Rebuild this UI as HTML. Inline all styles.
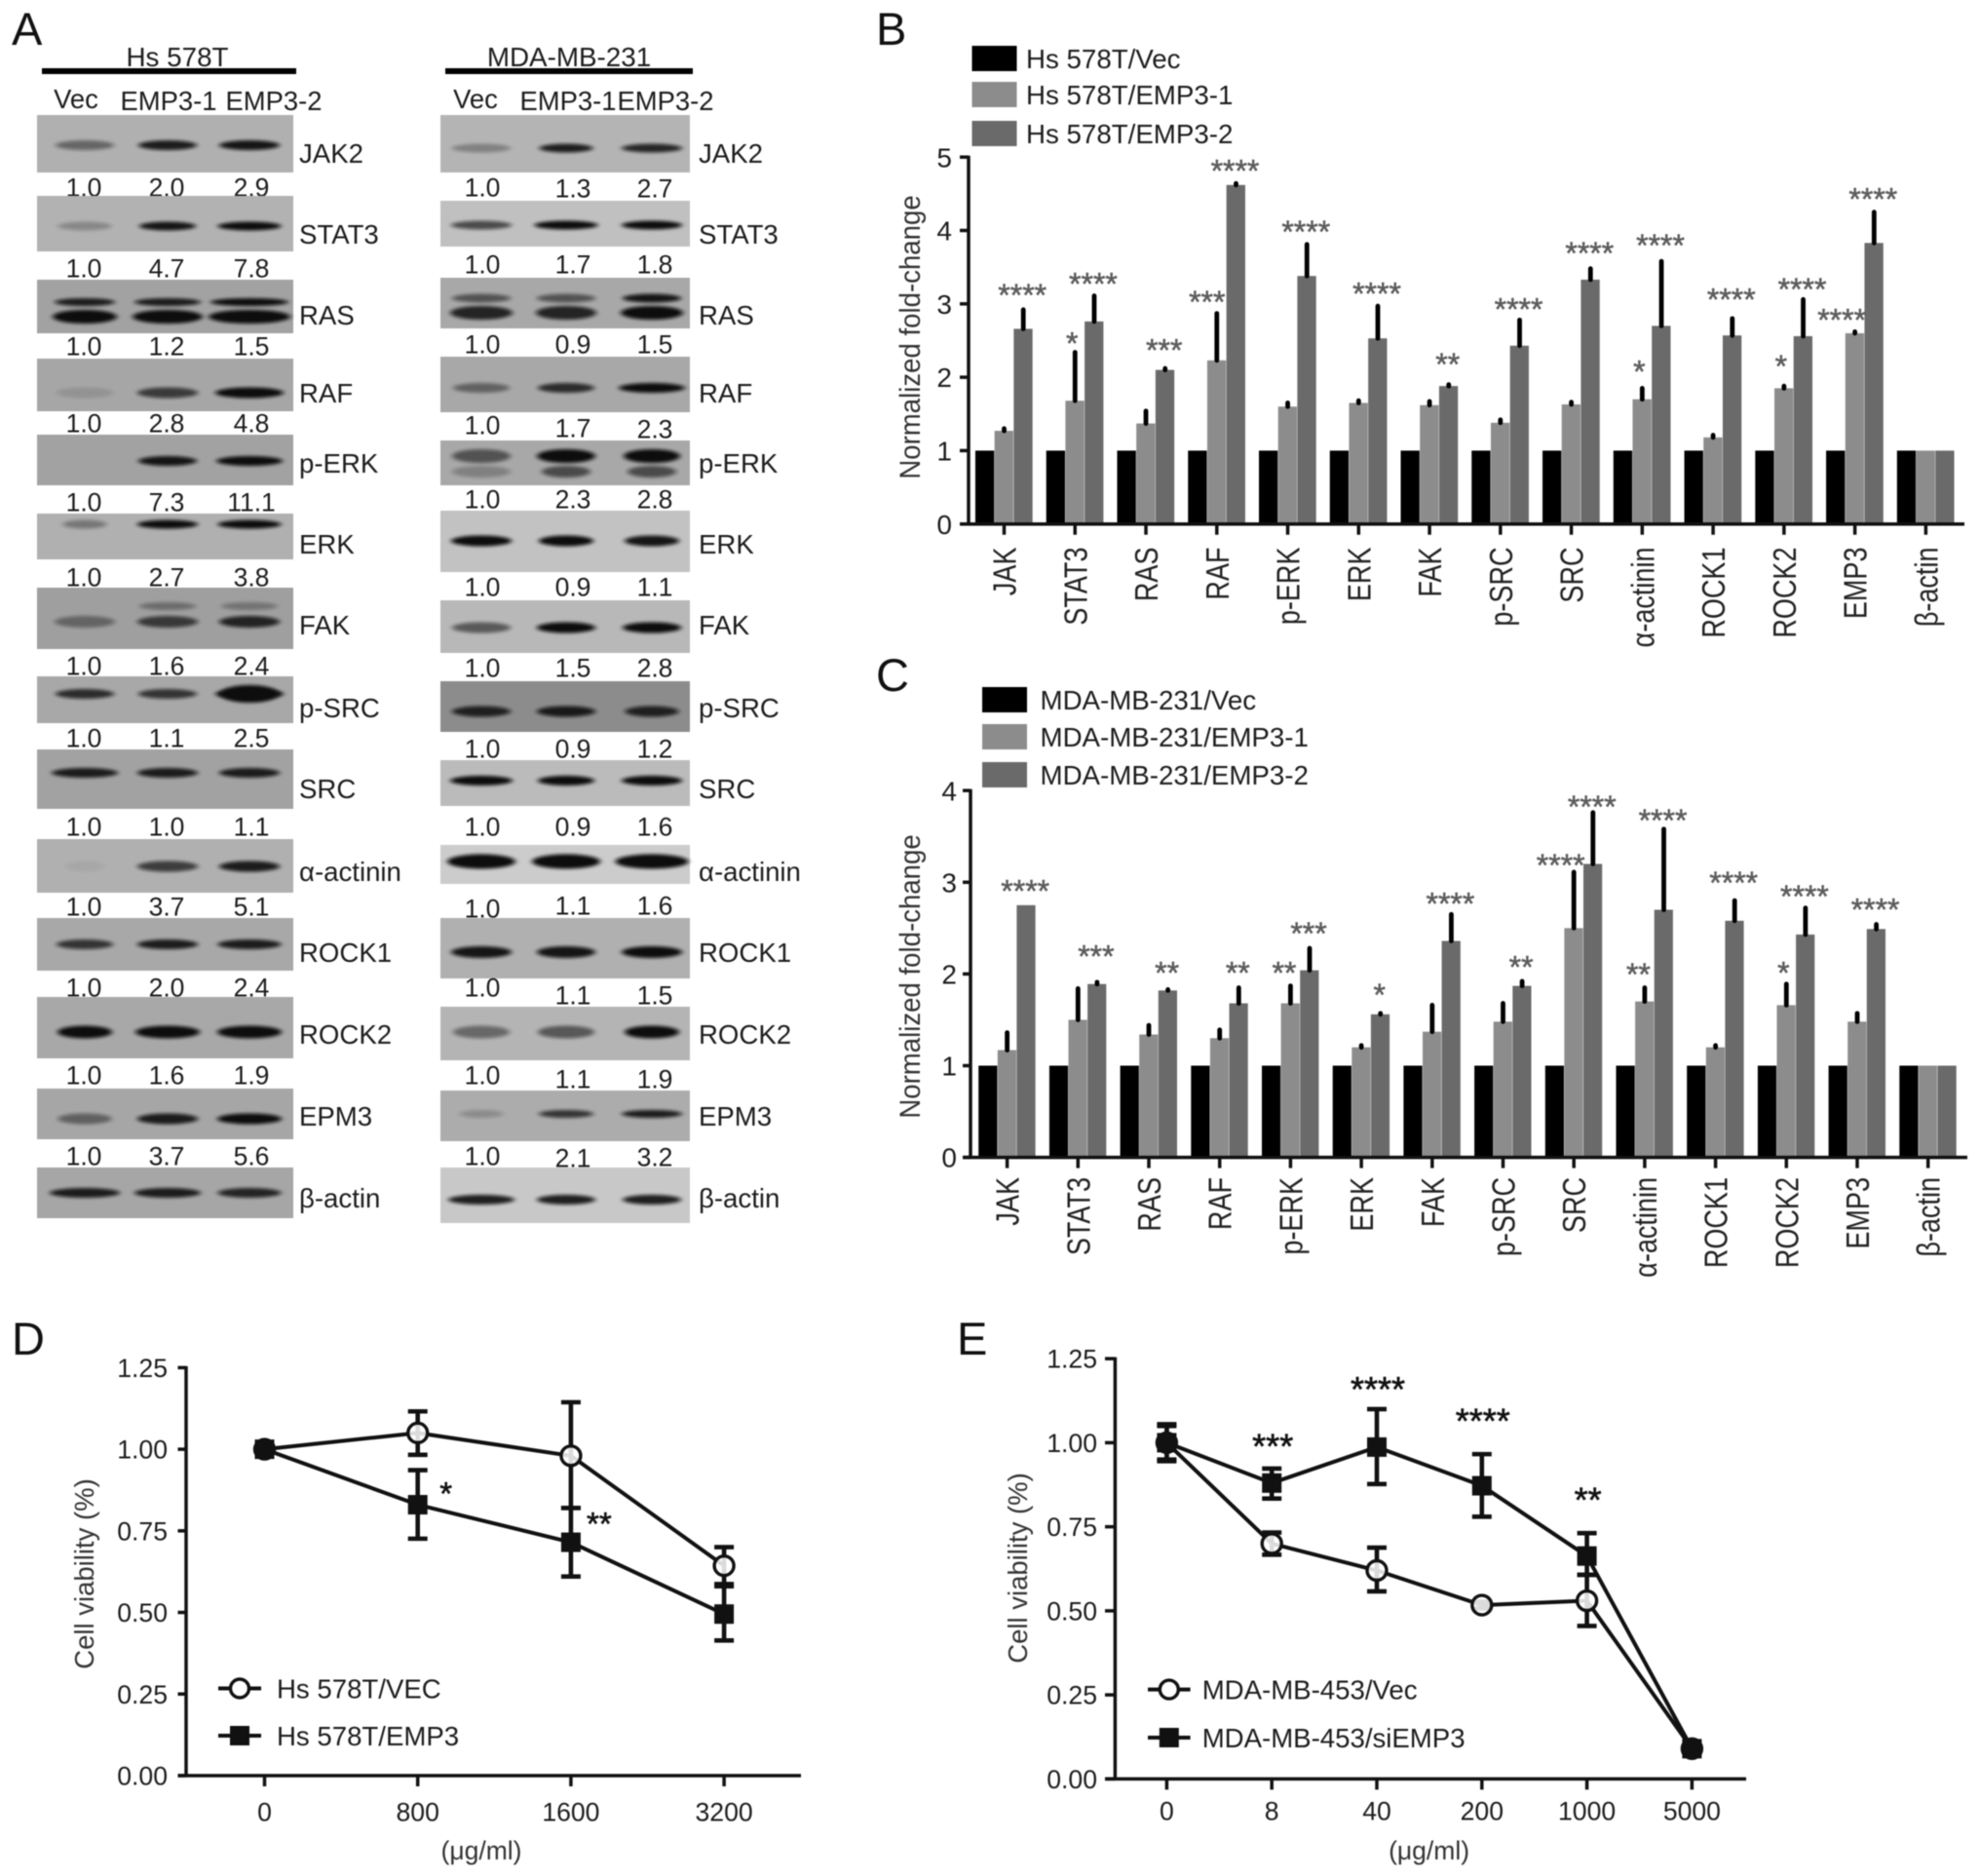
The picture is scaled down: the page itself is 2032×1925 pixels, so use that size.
<!DOCTYPE html>
<html lang="en">
<head>
<meta charset="utf-8">
<title>EMP3 western blots, fold-change and viability figure</title>
<style>
  html, body { margin: 0; padding: 0; background: #fff; }
  body { width: 2032px; height: 1925px; overflow: hidden; }
  svg { display: block; font-family: "Liberation Sans", sans-serif; filter: blur(0.5px); }
</style>
</head>
<body>
<svg id="figure" xmlns="http://www.w3.org/2000/svg" width="2032" height="1925" viewBox="0 0 2032 1925">
  <defs>
    <filter id="band-blur" x="-30%" y="-100%" width="160%" height="300%"><feGaussianBlur stdDeviation="2.6 1.7"/></filter>
  </defs>
  <rect width="2032" height="1925" fill="#ffffff"/>
</svg>
<script>
/* ---------- Panel B data ---------- */
const bCategories = ['JAK','STAT3','RAS','RAF','p-ERK','ERK','FAK','p-SRC','SRC','α-actinin','ROCK1','ROCK2','EMP3','β-actin'];
const bVec      = [1,1,1,1,1,1,1,1,1,1,1,1,1,1];
const bEmp1     = [1.27,1.68,1.37,2.23,1.60,1.65,1.62,1.38,1.63,1.70,1.18,1.85,2.60,1];
const bEmp1Top  = [1.30,2.34,1.54,2.87,1.65,1.68,1.67,1.42,1.66,1.85,1.21,1.88,2.62,1];
const bEmp2     = [2.66,2.76,2.10,4.62,3.38,2.53,1.88,2.43,3.33,2.70,2.57,2.56,3.83,1];
const bEmp2Top  = [2.92,3.11,2.12,4.64,3.81,2.97,1.90,2.78,3.48,3.58,2.80,3.06,4.25,1];
const bStars1   = ['','*','','***','','','','','','*','','*','****',''];
const bStars1At = [0,2.53,0,3.10,0,0,0,0,0,2.15,0,2.22,2.85,0];
const bStars2   = ['****','****','***','****','****','****','**','****','****','****','****','****','****',''];
const bStars2At = [3.19,3.34,2.44,4.88,4.05,3.21,2.25,3.00,3.76,3.87,3.13,3.27,4.50,0];
const bTicks    = [0,1,2,3,4,5];
const bLegend   = ['Hs 578T/Vec','Hs 578T/EMP3-1','Hs 578T/EMP3-2'];

/* ---------- Panel C data ---------- */
const cCategories = ['JAK','STAT3','RAS','RAF','p-ERK','ERK','FAK','p-SRC','SRC','α-actinin','ROCK1','ROCK2','EMP3','β-actin'];
const cVec      = [1,1,1,1,1,1,1,1,1,1,1,1,1,1];
const cEmp1     = [1.17,1.50,1.34,1.30,1.68,1.20,1.37,1.48,2.50,1.70,1.20,1.66,1.48,1];
const cEmp1Top  = [1.36,1.84,1.44,1.39,1.87,1.22,1.66,1.68,3.11,1.85,1.22,1.89,1.57,1];
const cEmp2     = [2.75,1.89,1.82,1.68,2.04,1.56,2.36,1.87,3.20,2.70,2.58,2.43,2.49,1];
const cEmp2Top  = [2.75,1.91,1.83,1.85,2.28,1.57,2.65,1.92,3.76,3.58,2.80,2.72,2.54,1];
const cStars1   = ['','','','','**','','','','****','**','','*','',''];
const cStars1At = [0,0,0,0,2.07,0,0,0,3.24,2.05,0,2.07,0,0];
const cStars2   = ['****','***','**','**','***','*','****','**','****','****','****','****','****',''];
const cStars2At = [2.96,2.25,2.07,2.07,2.50,1.83,2.82,2.13,3.88,3.73,3.05,2.90,2.76,0];
const cTicks    = [0,1,2,3,4];
const cLegend   = ['MDA-MB-231/Vec','MDA-MB-231/EMP3-1','MDA-MB-231/EMP3-2'];

/* ---------- Panel D data ---------- */
const dDoses     = ['0','800','1600','3200'];
const dVec       = [1.00,1.05,0.98,0.643];
const dVecErrHi  = [1.02,1.116,1.144,0.70];
const dVecErrLo  = [0.98,0.983,0.82,0.587];
const dEmp       = [1.00,0.83,0.715,0.495];
const dEmpErrHi  = [1.02,0.936,0.82,0.58];
const dEmpErrLo  = [0.98,0.726,0.61,0.414];
const dStars     = ['','*','**',''];
const dStarsAt   = [0,0.887,0.794,0];
const dTicks     = ['0.00','0.25','0.50','0.75','1.00','1.25'];
const dLegend    = ['Hs 578T/VEC','Hs 578T/EMP3'];

/* ---------- Panel E data ---------- */
const eDoses     = ['0','8','40','200','1000','5000'];
const eVec       = [1.00,0.70,0.62,0.517,0.53,0.09];
const eVecErrHi  = [1.055,0.733,0.688,0.527,0.607,0.10];
const eVecErrLo  = [0.945,0.667,0.558,0.507,0.455,0.08];
const eSi        = [1.00,0.88,0.987,0.872,0.663,0.09];
const eSiErrHi   = [1.05,0.923,1.10,0.966,0.731,0.10];
const eSiErrLo   = [0.95,0.834,0.877,0.78,0.607,0.08];
const eStars     = ['','***','****','****','**',''];
const eStarsAt   = [0,1.014,1.184,1.089,0.854,0];
const eTicks     = ['0.00','0.25','0.50','0.75','1.00','1.25'];
const eLegend    = ['MDA-MB-453/Vec','MDA-MB-453/siEMP3'];

/* ---------- Panel A printed values ---------- */
const aLanes = ['Vec','EMP3-1','EMP3-2'];
const aHsValues = [['1.0','2.0','2.9'],['1.0','4.7','7.8'],['1.0','1.2','1.5'],['1.0','2.8','4.8'],['1.0','7.3','11.1'],['1.0','2.7','3.8'],['1.0','1.6','2.4'],['1.0','1.1','2.5'],['1.0','1.0','1.1'],['1.0','3.7','5.1'],['1.0','2.0','2.4'],['1.0','1.6','1.9'],['1.0','3.7','5.6']];
const aMdaValues = [['1.0','1.3','2.7'],['1.0','1.7','1.8'],['1.0','0.9','1.5'],['1.0','1.7','2.3'],['1.0','2.3','2.8'],['1.0','0.9','1.1'],['1.0','1.5','2.8'],['1.0','0.9','1.2'],['1.0','0.9','1.6'],['1.0','1.1','1.6'],['1.0','1.1','1.5'],['1.0','1.1','1.9'],['1.0','2.1','3.2']];

const NS = 'http://www.w3.org/2000/svg';
const root = document.getElementById('figure');

function add(parent, tag, attrs, txt) {
  const n = document.createElementNS(NS, tag);
  for (const k in attrs) n.setAttribute(k, attrs[k]);
  if (txt !== undefined) n.textContent = txt;
  parent.appendChild(n);
  return n;
}
function slug(s) {
  return String(s).toLowerCase().replace(/α/g,'alpha').replace(/β/g,'beta').replace(/[^a-z0-9]+/g,'-').replace(/^-|-$/g,'');
}
function centred(parent, x, cy, size, anchor, txt, fill) {
  return add(parent, 'text', {x: x, y: cy + size * 0.36, 'font-size': size, 'text-anchor': anchor, fill: fill || '#1c1c1c'}, txt);
}

/* ---------- Panel letters ---------- */
[['A',12,46],['B',899,46],['C',899,709],['D',12,1390],['E',982,1390]].forEach(function (p) {
  const t = add(root, 'text', {x: p[1], y: p[2], 'font-size': 47, fill: '#111'}, p[0]);
  
  
});

/* ---------- Panel A: western blots ---------- */
const rowNames = ['JAK2','STAT3','RAS','RAF','p-ERK','ERK','FAK','p-SRC','SRC','α-actinin','ROCK1','ROCK2','EPM3','β-actin'];
const labelCentres = [157,240,323,403,475,558,641,726,809,894,977,1061,1145,1229];

const hsLayout = {
  x0: 38, x1: 301, labelX: 307, lanes: [87,172,256], valueX: [86,171,258],
  valueY: [[192,192,192],[275,275,275],[355,355,355],[434,434,434],[515,515,515],[592,592,592],[683,683,683],[757,757,757],[848,848,848],[930,930,930],[1013,1013,1013],[1103,1103,1103],[1186,1186,1186]],
  rows: [
    [118,177,'#b0b0b0',[[149,8,[.45,.9,.95],[60,60,62]]]],
    [201,258,'#b2b2b2',[[232,7,[.25,.95,1],[55,58,65]]]],
    [287,342,'#a2a2a2',[[310,6,[.9,.9,1],[62,68,80]],[325,12,[1,1,1],[66,72,84]]]],
    [368,422,'#a6a6a6',[[403,9,[.12,.7,1],[58,62,70]]]],
    [446,498,'#a2a2a2',[[473,8,[0,.95,1],[40,60,68]]]],
    [527,574,'#b0b0b0',[[538,7,[.35,1,1],[45,62,65]]]],
    [603,666,'#9f9f9f',[[622,6,[0,.35,.3],[60,58,58]],[638,10,[.4,.7,.85],[62,62,62]]]],
    [694,742,'#a8a8a8',[[712,8,[.8,.75,1],[60,60,70]],[712,16,[0,0,1],[10,10,60]]]],
    [769,830,'#a2a2a2',[[793,8,[.9,.9,.9],[68,62,62]]]],
    [861,916,'#b0b0b0',[[889,9,[.05,.7,.9],[40,62,62]]]],
    [942,996,'#a8a8a8',[[969,8,[.75,.9,.9],[58,62,65]]]],
    [1023,1086,'#a8a8a8',[[1059,11,[1,1,1],[56,66,66]]]],
    [1117,1169,'#a6a6a6',[[1148,9,[.45,.9,1],[55,62,66]]]],
    [1198,1250,'#a6a6a6',[[1224,8,[.9,.9,.85],[72,68,65]]]]
  ]
};
const mdaLayout = {
  x0: 452, x1: 708, labelX: 717, lanes: [494,581,669], valueX: [495,588,672],
  valueY: [[192,193,193],[271,271,271],[353,353,353],[436,439,440],[512,512,512],[602,602,602],[685,685,685],[768,768,768],[848,848,848],[932,929,929],[1013,1021,1021],[1103,1107,1107],[1186,1188,1187]],
  rows: [
    [118,177,'#b4b4b4',[[152,7,[.3,.9,.85],[60,55,62]]]],
    [206,253,'#c0c0c0',[[231,7,[.65,1,1],[62,65,62]]]],
    [285,337,'#a8a8a8',[[306,7,[.55,.55,.95],[60,60,60]],[321,12,[.85,.85,1],[64,62,64]]]],
    [366,423,'#a8a8a8',[[398,8,[.45,.8,1],[58,58,68]]]],
    [452,498,'#a8a8a8',[[468,12,[.55,1,1],[60,60,58]],[484,10,[.25,.6,.6],[60,50,50]]]],
    [524,587,'#c2c2c2',[[555,9,[1,1,.95],[62,56,56]]]],
    [616,670,'#b8b8b8',[[644,9,[.55,1,1],[60,60,60]]]],
    [699,751,'#8c8c8c',[[730,9,[.85,.9,.85],[60,60,55]]]],
    [780,827,'#bbbbbb',[[801,8,[1,1,1],[64,58,62]]]],
    [867,907,'#cccccc',[[884,13,[1,1,1],[70,70,75]]]],
    [942,1004,'#b0b0b0',[[977,10,[.95,.95,1],[62,60,62]]]],
    [1033,1088,'#b4b4b4',[[1059,11,[.45,.55,1],[58,58,56]]]],
    [1119,1171,'#acacac',[[1143,6,[.2,.75,.9],[45,56,62]]]],
    [1198,1255,'#c8c8c8',[[1231,8,[.9,.9,.9],[68,60,60]]]]
  ]
};

function drawBlotColumn(key, lay, values) {
  const g = add(root, 'g', {});
  
  
  lay.rows.forEach(function (r, i) {
    const rowKey = key + '-' + slug(rowNames[i]);
    const blot = add(g, 'rect', {x: lay.x0, y: r[0], width: lay.x1 - lay.x0, height: r[1] - r[0], fill: r[2]});
    
    
    r[3].forEach(function (b) {
      b[2].forEach(function (op, l) {
        if (op <= 0) return;
        const band = add(g, 'ellipse', {cx: lay.lanes[l], cy: b[0], rx: b[3][l] / 2, ry: b[1] / 2 + 1, fill: '#0a0a0a', opacity: op, filter: 'url(#band-blur)'});
        
        
      });
    });
    const lab = centred(g, lay.labelX, labelCentres[i], 27.6, 'start', rowNames[i]);
    
    
    if (values[i]) {
      values[i].forEach(function (v, l) {
        const t = centred(g, lay.valueX[l], lay.valueY[i][l], 26.5, 'middle', v);
        
        
      });
    }
  });
}
drawBlotColumn('hs578t', hsLayout, aHsValues);
drawBlotColumn('mda231', mdaLayout, aMdaValues);

[[ 'Hs 578T', 184, 43, 304, [[78,101],[173,103],[281,103]] ],[ 'MDA-MB-231', 586, 457, 711, [[488,101],[583,103],[683,103]] ]].forEach(function (h) {
  const t = centred(root, h[1] - 2, 58, 27.8, 'middle', h[0]);
  
  
  const bar = add(root, 'rect', {x: h[2], y: 70, width: h[3] - h[2], height: 6, fill: '#000'});
  
  
  h[4].forEach(function (p, i) {
    const l = centred(root, p[0], p[1], 27.4, 'middle', aLanes[i]);
    
    
  });
});

/* ---------- Bar charts ---------- */
const barFills = ['#000000','#8c8c8c','#6a6a6a'];

function drawBarChart(o) {
  const g = add(root, 'g', {});
  
  
  const xPos = function (i) { return o.firstX + i * o.stepX; };
  const yPos = function (v) { return o.y0 - v * o.unit; };

  o.series.forEach(function (vals, s) {
    vals.forEach(function (v, i) {
      const bar = add(g, 'rect', {x: xPos(i) + (s - 1.5) * o.barW, y: yPos(v), width: o.barW - 0.4, height: o.y0 - yPos(v), fill: barFills[s]});
      
      
    });
  });
  [[1, o.tops1],[2, o.tops2]].forEach(function (e) {
    e[1].forEach(function (top, i) {
      const base = o.series[e[0]][i];
      if (top <= base) return;
      const cx = xPos(i) + (e[0] - 1) * o.barW;
      const line = add(g, 'line', {x1: cx, x2: cx, y1: yPos(base), y2: yPos(top), stroke: '#000', 'stroke-width': 4.8, 'stroke-linecap': 'round'});
      
      
    });
  });
  [[1, o.stars1, o.stars1At],[2, o.stars2, o.stars2At]].forEach(function (e) {
    e[1].forEach(function (label, i) {
      if (!label) return;
      const shift = e[0] === 1 ? -3 - (label.length - 1) * 3.5 : -1;
      const cx = xPos(i) + (e[0] - 1) * o.barW + shift;
      const t = add(g, 'text', {x: cx, y: yPos(e[2][i]) + 16.5, 'font-size': 32, 'text-anchor': 'middle', fill: '#5c5c5c', stroke: '#5c5c5c', 'stroke-width': 0.5}, label);
      
      
    });
  });

  const yAxis = add(g, 'line', {x1: o.axisX, x2: o.axisX, y1: yPos(o.ticks[o.ticks.length - 1]) - 1.5, y2: o.y0 + 1.5, stroke: '#111', 'stroke-width': 3.5});
  
  
  const xAxis = add(g, 'line', {x1: o.axisX0, x2: o.axisX1, y1: o.y0, y2: o.y0, stroke: '#111', 'stroke-width': 3.5});
  
  

  o.ticks.forEach(function (v) {
    const tick = add(g, 'line', {x1: o.axisX0, x2: o.axisX, y1: yPos(v), y2: yPos(v), stroke: '#111', 'stroke-width': 3.5});
    
    
    const t = centred(g, o.tickRight, yPos(v), 28, 'end', String(v));
    
    
  });
  o.categories.forEach(function (c, i) {
    const tick = add(g, 'line', {x1: xPos(i), x2: xPos(i), y1: o.y0, y2: o.y0 + 11, stroke: '#111', 'stroke-width': 3.5});
    
    
    const t = add(g, 'text', {transform: 'translate(' + (xPos(i) + 12) + ',' + o.labelTop + ') rotate(-90) scale(.82,1)', 'font-size': 33, 'text-anchor': 'end', fill: '#222'}, c);
    
    
  });

  const yt = add(g, 'text', {transform: 'translate(' + (o.yTitleX + 10) + ',' + o.yTitleY + ') rotate(-90) scale(.92,1)', 'font-size': 30, 'text-anchor': 'middle', fill: '#333'}, 'Normalized fold-change');
  
  

  o.legend.forEach(function (name, s) {
    const sw = add(g, 'rect', {x: o.legendX, y: o.legendY[s] - 13, width: 46, height: 26, fill: barFills[s]});
    
    
    const t = centred(g, o.legendTextX, o.legendY[s], 27.7, 'start', name);
    
    
  });
}

drawBarChart({
  key: 'panel-b', categories: bCategories, series: [bVec, bEmp1, bEmp2], tops1: bEmp1Top, tops2: bEmp2Top,
  stars1: bStars1, stars1At: bStars1At, stars2: bStars2, stars2At: bStars2At, ticks: bTicks, legend: bLegend,
  firstX: 1030.5, stepX: 72.76, barW: 19.7, y0: 537.7, unit: 75.3, axisX: 994, axisX0: 985, axisX1: 2016,
  tickRight: 977, labelTop: 561.5, yTitleX: 934, yTitleY: 346, legendX: 997.5, legendY: [60, 97, 137], legendTextX: 1053
});
drawBarChart({
  key: 'panel-c', categories: cCategories, series: [cVec, cEmp1, cEmp2], tops1: cEmp1Top, tops2: cEmp2Top,
  stars1: cStars1, stars1At: cStars1At, stars2: cStars2, stars2At: cStars2At, ticks: cTicks, legend: cLegend,
  firstX: 1033.6, stepX: 72.7, barW: 19.6, y0: 1187.6, unit: 94.1, axisX: 996, axisX0: 988, axisX1: 2019,
  tickRight: 982, labelTop: 1208, yTitleX: 934, yTitleY: 1002, legendX: 1008, legendY: [718, 756, 795], legendTextX: 1067.5
});

/* ---------- Line charts ---------- */
function drawLineChart(o) {
  const g = add(root, 'g', {});
  
  
  const xPos = function (i) { return o.firstX + i * o.stepX; };
  const yPos = function (v) { return o.y0 - v * o.unit; };

  const yAxis = add(g, 'line', {x1: o.axisX, x2: o.axisX, y1: yPos(1.25) - 1.5, y2: o.y0 + 1.5, stroke: '#111', 'stroke-width': 3.5});
  
  
  const xAxis = add(g, 'line', {x1: o.axisX0, x2: o.axisX1, y1: o.y0, y2: o.y0, stroke: '#111', 'stroke-width': 3.5});
  
  

  o.ticks.forEach(function (label) {
    const v = parseFloat(label);
    const tick = add(g, 'line', {x1: o.axisX0, x2: o.axisX, y1: yPos(v), y2: yPos(v), stroke: '#111', 'stroke-width': 3.5});
    
    
    const t = centred(g, o.tickRight, yPos(v), 26.6, 'end', label);
    
    
  });
  o.doses.forEach(function (d, i) {
    const tick = add(g, 'line', {x1: xPos(i), x2: xPos(i), y1: o.y0, y2: o.y0 + 11, stroke: '#111', 'stroke-width': 3.5});
    
    
    const t = centred(g, xPos(i), o.tickLabelY, 26.6, 'middle', d);
    
    
  });

  o.lines.forEach(function (s, idx) {
    const pts = s.values.map(function (v, i) { return xPos(i) + ',' + yPos(v); }).join(' ');
    const line = add(g, 'polyline', {points: pts, fill: 'none', stroke: '#111', 'stroke-width': 4, 'stroke-linejoin': 'round'});
    
    
    s.values.forEach(function (v, i) {
      const cx = xPos(i);
      const err = add(g, 'path', {d: 'M' + (cx - 10) + ' ' + yPos(s.hi[i]) + 'H' + (cx + 10) + 'M' + cx + ' ' + yPos(s.hi[i]) + 'V' + yPos(s.lo[i]) + 'M' + (cx - 10) + ' ' + yPos(s.lo[i]) + 'H' + (cx + 10), fill: 'none', stroke: '#111', 'stroke-width': 4.6});
      
      
      let mark;
      if (idx === 0) {
        mark = add(g, 'circle', {cx: cx, cy: yPos(v), r: 10, fill: '#fff', 'fill-opacity': 0.85, stroke: '#111', 'stroke-width': 3.4});
      } else {
        mark = add(g, 'rect', {x: cx - 10, y: yPos(v) - 10, width: 20, height: 20, fill: '#111'});
      }
      
      
    });
  });

  o.stars.forEach(function (label, i) {
    if (!label) return;
    const t = add(g, 'text', {x: xPos(i) + o.starDx, y: yPos(o.starsAt[i]) + o.starSize * 0.58, 'font-size': o.starSize, 'text-anchor': 'middle', fill: '#111', stroke: '#111', 'stroke-width': 0.6}, label);
    
    
  });

  const xt = centred(g, o.xTitleX, o.xTitleY, 26.5, 'middle', '(μg/ml)', '#333');
  
  
  const yt = add(g, 'text', {transform: 'translate(' + (o.yTitleX + 10) + ',' + o.yTitleY + ') rotate(-90)', 'font-size': 27.5, 'text-anchor': 'middle', fill: '#333'}, 'Cell viability (%)');
  
  

  o.legend.forEach(function (name, s) {
    const ly = o.legendY[s];
    const mid = (o.legendX0 + o.legendX1) / 2;
    const ll = add(g, 'line', {x1: o.legendX0, x2: o.legendX1, y1: ly, y2: ly, stroke: '#111', 'stroke-width': 4});
    
    
    let lm;
    if (s === 0) {
      lm = add(g, 'circle', {cx: mid, cy: ly, r: 9.5, fill: '#fff', stroke: '#111', 'stroke-width': 3.4});
    } else {
      lm = add(g, 'rect', {x: mid - 10, y: ly - 10, width: 20, height: 20, fill: '#111'});
    }
    
    
    const t = centred(g, o.legendTextX, ly, 27.6, 'start', name);
    
    
  });
}

drawLineChart({
  key: 'panel-d', doses: dDoses, ticks: dTicks, legend: dLegend, stars: dStars, starsAt: dStarsAt,
  lines: [
    {name: dLegend[0], values: dVec, hi: dVecErrHi, lo: dVecErrLo},
    {name: dLegend[1], values: dEmp, hi: dEmpErrHi, lo: dEmpErrLo}
  ],
  firstX: 271.5, stepX: 157.2, y0: 1822, unit: 334.9, axisX: 191, axisX0: 182.5, axisX1: 822,
  tickRight: 172, tickLabelY: 1858.7, xTitleX: 494, xTitleY: 1898.6, yTitleX: 86, yTitleY: 1615,
  starDx: 29, starSize: 33, legendX0: 224, legendX1: 268, legendY: [1732.5, 1781], legendTextX: 284
});
drawLineChart({
  key: 'panel-e', doses: eDoses, ticks: eTicks, legend: eLegend, stars: eStars, starsAt: eStarsAt,
  lines: [
    {name: eLegend[0], values: eVec, hi: eVecErrHi, lo: eVecErrLo},
    {name: eLegend[1], values: eSi, hi: eSiErrHi, lo: eSiErrLo}
  ],
  firstX: 1197.4, stepX: 107.8, y0: 1825.4, unit: 345, axisX: 1144.4, axisX0: 1134, axisX1: 1792,
  tickRight: 1126, tickLabelY: 1858, xTitleX: 1466.6, xTitleY: 1898.6, yTitleX: 1044, yTitleY: 1609,
  starDx: 1, starSize: 36, legendX0: 1178, legendX1: 1221.6, legendY: [1733.6, 1783], legendTextX: 1233.7
});
</script>
</body>
</html>
